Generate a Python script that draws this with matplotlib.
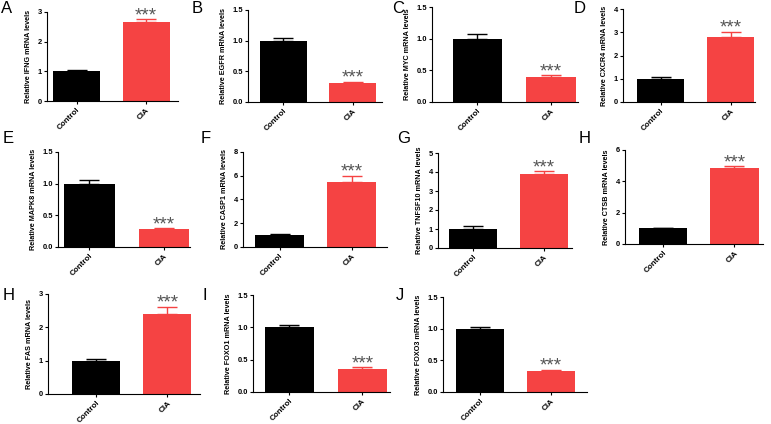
import numpy as np
import matplotlib
matplotlib.use("Agg")
import matplotlib.pyplot as plt

plt.rcParams['font.family'] = ['Liberation Sans', 'DejaVu Sans']

groups = ["Control", "CIA"]
letters = ["A", "B", "C", "D", "E", "F", "G", "H", "H", "I", "J"]
genes = ["IFNG", "EGFR", "MYC", "CXCR4", "MAPK8", "CASP1", "TNFSF10", "CTSB", "FAS", "FOXO1", "FOXO3"]
means = [[1.0, 2.65], [1.0, 0.31], [1.0, 0.39], [1.0, 2.8], [1.0, 0.28], [0.98, 5.5],
         [1.0, 3.92], [1.0, 4.82], [1.0, 2.4], [1.0, 0.35], [1.0, 0.33]]
errs = [[0.05, 0.1], [0.04, 0.02], [0.07, 0.03], [0.07, 0.22], [0.05, 0.02], [0.12, 0.5],
        [0.15, 0.12], [0.05, 0.15], [0.05, 0.22], [0.04, 0.03], [0.03, 0.02]]
ytops = [3, 1.5, 1.5, 4, 1.5, 8, 5, 6, 3, 1.5, 1.5]
ysteps = [1, 0.5, 0.5, 1, 0.5, 2, 1, 2, 1, 0.5, 0.5]

# layout in pixels: axis left, axis right, top, bottom, xlim lo, xlim hi, letter x, letter y
boxes = [
    (47, 178, 12, 101, -0.43, 1.46, 1, 1),
    (248, 382, 10, 102, -0.51, 1.42, 192, 1),
    (432, 578, 7, 102, -0.62, 1.37, 392, 1),
    (623, 755, 9, 102, -0.54, 1.35, 574, 1),
    (58, 190, 152, 247, -0.42, 1.35, 3, 131),
    (243, 387, 152, 247, -0.51, 1.49, 201, 131),
    (438, 572, 153, 248, -0.49, 1.39, 397, 131),
    (625, 763, 150, 244, -0.53, 1.40, 579, 131),
    (48, 200, 294, 394, -0.68, 1.46, 3, 288),
    (253, 390, 295, 392, -0.50, 1.38, 203, 288),
    (443, 587, 297, 392, -0.52, 1.51, 396, 288),
]

W, H = 771, 424
colors = ["#000000", "#F54343"]

fig = plt.figure(figsize=(W / 100, H / 100), dpi=100)

for k in range(len(genes)):
    x0, x1, yt, yb, lo, hi, lx, ly = boxes[k]
    ax = fig.add_axes([x0 / W, 1 - yb / H, (x1 - x0) / W, (yb - yt) / H])
    xs = np.arange(len(groups))
    for i in range(len(groups)):
        ax.bar(xs[i], means[k][i], width=0.68, color=colors[i], zorder=2)
        ax.errorbar(xs[i], means[k][i], yerr=[[0], [errs[k][i]]], color=colors[i],
                    capsize=7, elinewidth=1, capthick=1, fmt='none', zorder=1)
    top = means[k][1] + errs[k][1]
    ax.annotate("***", (1, top), xytext=(0, -0.8), textcoords="offset points",
                ha="center", va="baseline", fontsize=13.5, color="#555555")
    ax.set_xlim(lo, hi)
    ax.set_ylim(0, ytops[k])
    ticks = np.arange(0, ytops[k] + 1e-9, ysteps[k])
    ax.set_yticks(ticks)
    if ysteps[k] < 1:
        ax.set_yticklabels(["%.1f" % t for t in ticks])
    else:
        ax.set_yticklabels(["%d" % t for t in ticks])
    ax.set_xticks(xs)
    ax.set_xticklabels(groups, rotation=45, ha="right", rotation_mode="anchor",
                       fontsize=5.8, fontweight="bold")
    ax.tick_params(axis="y", labelsize=5.4, length=2, width=0.8, pad=1.5)
    ax.tick_params(axis="x", length=2, width=0.8, pad=2)
    for lbl in ax.get_yticklabels():
        lbl.set_fontweight("bold")
    ax.spines["top"].set_visible(False)
    ax.spines["right"].set_visible(False)
    ax.spines["left"].set_linewidth(0.8)
    ax.spines["bottom"].set_linewidth(0.8)
    ax.set_ylabel("Relative %s mRNA levels" % genes[k], fontsize=5.2, fontweight="bold", labelpad=4)
    fig.text(lx / W, 1 - ly / H, letters[k], fontsize=12, ha="left", va="top")

fig.savefig("out.png", dpi=100)
